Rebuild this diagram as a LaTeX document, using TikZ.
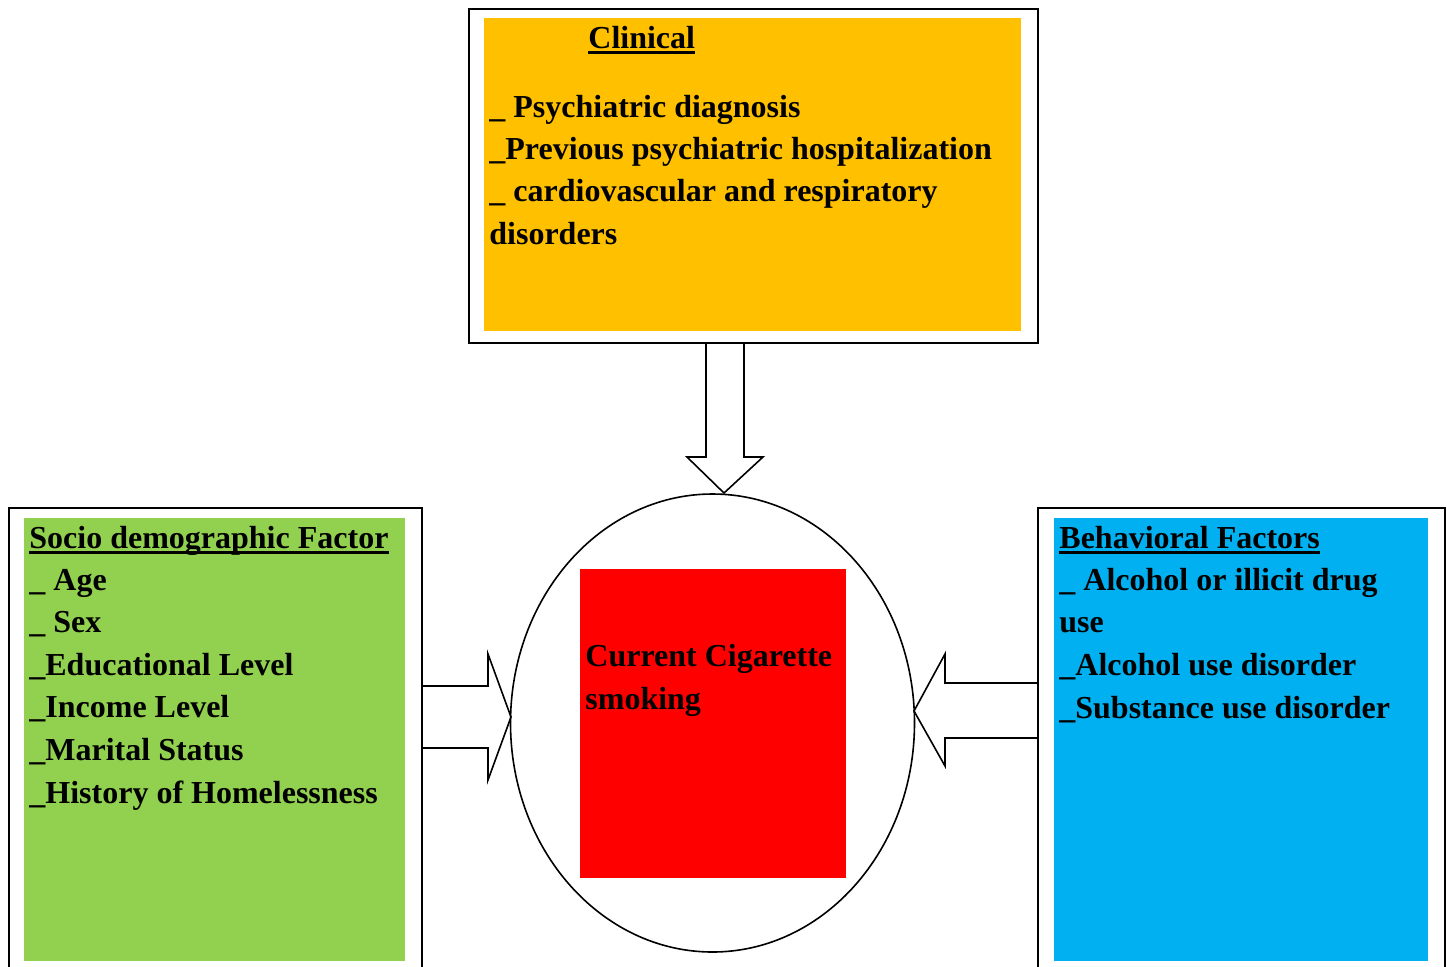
\documentclass[tikz,border=0pt]{standalone}
\usepackage{fontspec}
\setmainfont{Liberation Serif}
\usetikzlibrary{shapes.geometric}
\definecolor{clinorange}{HTML}{FFC000}
\definecolor{sociogreen}{HTML}{92D050}
\definecolor{behavblue}{HTML}{00B0F0}
\definecolor{smokered}{HTML}{FF0000}
\tikzset{
  outerbox/.style={draw=black, line width=1pt, fill=white, rectangle, inner sep=0pt, anchor=north west},
  innerbox/.style={rectangle, inner sep=0pt, draw=none, anchor=north west},
  txt/.style={font=\fontsize{16}{21}\selectfont\bfseries, inner sep=0pt, anchor=base west},
  uline/.style={line width=1.5pt},
  arrowline/.style={draw=black, line width=0.8pt, line join=miter},
}
\begin{document}
\begin{tikzpicture}[x=0.5pt,y=-0.5pt]
\useasboundingbox (0,0) rectangle (1447,966);
\clip (0,0) rectangle (1447,966);
\fill[white] (0,0) rectangle (1447,966);

% Clinical box
\node[outerbox, minimum width=284.5pt, minimum height=167pt] (clinOuter) at (468,8) {};
\node[innerbox, fill=clinorange, minimum width=268.5pt, minimum height=156.5pt] (clinInner) at (484,18) {};
\node[txt] (clinT) at (588,48) {Clinical};
\draw[uline] ([yshift=-2pt]clinT.base west) -- ([yshift=-2pt]clinT.base east);
\node[txt] (clinA) at (489,117) {\_ Psychiatric diagnosis};
\node[txt] (clinB) at (489,159) {\_Previous psychiatric hospitalization};
\node[txt] (clinC) at (489,201) {\_ cardiovascular and respiratory};
\node[txt] (clinD) at (489,244) {disorders};

% Socio-demographic box
\node[outerbox, minimum width=206.5pt, minimum height=240pt] (socOuter) at (8,507) {};
\node[innerbox, fill=sociogreen, minimum width=190.5pt, minimum height=221.5pt] (socInner) at (24,518) {};
\node[txt] (socT) at (29,548) {Socio demographic Factor};
\draw[uline] ([yshift=-2pt]socT.base west) -- ([yshift=-2pt]socT.base east);
\node[txt] (socA) at (29,590) {\_ Age};
\node[txt] (socB) at (29,632) {\_ Sex};
\node[txt] (socC) at (29,675) {\_Educational Level};
\node[txt] (socD) at (29,717) {\_Income Level};
\node[txt] (socE) at (29,760) {\_Marital Status};
\node[txt] (socF) at (29,803) {\_History of Homelessness};

% Behavioral box
\node[outerbox, minimum width=203.5pt, minimum height=240pt] (behOuter) at (1037,507) {};
\node[innerbox, fill=behavblue, minimum width=187pt, minimum height=221.5pt] (behInner) at (1054,518) {};
\node[txt] (behT) at (1059,548) {Behavioral Factors};
\draw[uline] ([yshift=-2pt]behT.base west) -- ([yshift=-2pt]behT.base east);
\node[txt] (behA) at (1059,590) {\_ Alcohol or illicit drug};
\node[txt] (behB) at (1059,632) {use};
\node[txt] (behC) at (1059,675) {\_Alcohol use disorder};
\node[txt] (behD) at (1059,718) {\_Substance use disorder};

% Central ellipse
\node[ellipse, draw=black, line width=0.8pt, fill=white, minimum width=202pt, minimum height=229pt, inner sep=0pt] (smokeEll) at (712.5,723) {};
\node[innerbox, fill=smokered, minimum width=133pt, minimum height=154.5pt] (smokeBox) at (580,569) {};
\node[txt] (smokeA) at (585,666) {Current Cigarette};
\node[txt] (smokeB) at (585,709) {smoking};

% Arrow coordinates
\coordinate (dS1) at (706,342);
\coordinate (dS2) at (744,342);
\coordinate (dTip) at (724,493);
\coordinate (lS1) at (421,686);
\coordinate (lS2) at (421,748);
\coordinate (lTip) at (511,717);
\coordinate (rS1) at (1037,683);
\coordinate (rS2) at (1037,738);
\coordinate (rTip) at (914,711);

% Down arrow (Clinical -> ellipse)
\draw[arrowline] (dS1) -- (706,457) -- (687,457) -- (dTip) -- (763,457) -- (744,457) -- (dS2);
% Left arrow (Socio -> ellipse)
\draw[arrowline] (lS1) -- (488,686) -- (488,654) -- (lTip) -- (488,780) -- (488,748) -- (lS2);
% Right arrow (Behavioral -> ellipse)
\draw[arrowline] (rS1) -- (945,683) -- (945,654) -- (rTip) -- (945,766) -- (945,738) -- (rS2);
\end{tikzpicture}
\end{document}
